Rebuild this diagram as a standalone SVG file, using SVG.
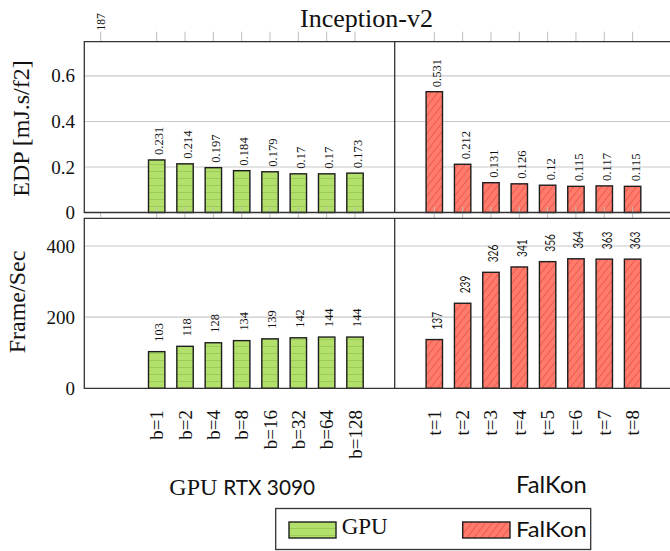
<svg xmlns="http://www.w3.org/2000/svg" width="670" height="551" viewBox="0 0 670 551">
<style>
.serif{font-family:"Liberation Serif","Times New Roman",serif;fill:#111}
.sans{font-family:Lato,"Liberation Sans",sans-serif;fill:#111}
.ytick{font-size:19px;text-anchor:end}
.val{font-size:12.6px}
.xl{font-size:19px;text-anchor:end}
.frame{stroke:#333;stroke-width:1.3;fill:none}
.grid{stroke:#c8c8c8;stroke-width:1.2}
.tick{stroke:#bdbdbd;stroke-width:1}
.gbar{fill:url(#gstripe);stroke:#1e1e1e;stroke-width:1.4}
.rbar{fill:url(#rhatch);stroke:#1e1e1e;stroke-width:1.4}
</style>
<defs>
<pattern id="gstripe" patternUnits="userSpaceOnUse" width="8" height="7">
<rect width="8" height="7" fill="#b3e06b"/>
<line x1="0" y1="3.5" x2="8" y2="3.5" stroke="#9ccb5a" stroke-width="1"/>
</pattern>
<pattern id="rhatch" patternUnits="userSpaceOnUse" width="5.5" height="5.5" patternTransform="rotate(38)">
<rect width="5.5" height="5.5" fill="#ff7b6b"/>
<line x1="0" y1="0" x2="0" y2="5.5" stroke="#e0423a" stroke-width="1.1"/>
</pattern>
</defs>
<rect width="670" height="551" fill="#fff"/>

<g id="title"><text class="serif" x="366.5" y="27" font-size="26" text-anchor="middle">Inception-v2</text></g>

<g id="axes">
<!-- gridlines -->
<line class="grid" x1="84.3" y1="75.8" x2="670" y2="75.8"/>
<line class="grid" x1="84.3" y1="121.5" x2="670" y2="121.5"/>
<line class="grid" x1="84.3" y1="167" x2="670" y2="167"/>
<line class="grid" x1="84.3" y1="246" x2="670" y2="246"/>
<line class="grid" x1="84.3" y1="317.2" x2="670" y2="317.2"/>
<!-- top ticks -->
<g class="tick">
<line x1="100.7" y1="31.7" x2="100.7" y2="41.7"/>
<line x1="156.7" y1="31.7" x2="156.7" y2="41.7"/><line x1="185.03" y1="31.7" x2="185.03" y2="41.7"/><line x1="213.36" y1="31.7" x2="213.36" y2="41.7"/><line x1="241.69" y1="31.7" x2="241.69" y2="41.7"/><line x1="270.02" y1="31.7" x2="270.02" y2="41.7"/><line x1="298.35" y1="31.7" x2="298.35" y2="41.7"/><line x1="326.68" y1="31.7" x2="326.68" y2="41.7"/><line x1="355.01" y1="31.7" x2="355.01" y2="41.7"/>
<line x1="434.3" y1="31.7" x2="434.3" y2="41.7"/><line x1="462.63" y1="31.7" x2="462.63" y2="41.7"/><line x1="490.96" y1="31.7" x2="490.96" y2="41.7"/><line x1="519.29" y1="31.7" x2="519.29" y2="41.7"/><line x1="547.62" y1="31.7" x2="547.62" y2="41.7"/><line x1="575.95" y1="31.7" x2="575.95" y2="41.7"/><line x1="604.28" y1="31.7" x2="604.28" y2="41.7"/><line x1="632.61" y1="31.7" x2="632.61" y2="41.7"/>
</g>
<text class="serif" font-size="11.5" transform="translate(105,30.5) rotate(-90)">187</text>
<!-- y tick labels -->
<text class="serif ytick" x="75" y="82.3">0.6</text>
<text class="serif ytick" x="75" y="128">0.4</text>
<text class="serif ytick" x="75" y="173.5">0.2</text>
<text class="serif ytick" x="75" y="218.7">0</text>
<text class="serif ytick" x="75" y="252.5">400</text>
<text class="serif ytick" x="75" y="323.7">200</text>
<text class="serif ytick" x="75" y="394.6">0</text>
<!-- axis titles -->
<text class="serif" font-size="24" text-anchor="middle" transform="translate(28.5,128.5) rotate(-90)">EDP [mJ.s/f2]</text>
<text class="serif" font-size="24" text-anchor="middle" transform="translate(25,302) rotate(-90)">Frame/Sec</text>
</g>

<g id="gpu-edp">
<rect class="gbar" x="148.5" y="159.95" width="16.4" height="52.55"/>
<rect class="gbar" x="176.83" y="163.81" width="16.4" height="48.69"/>
<rect class="gbar" x="205.16" y="167.68" width="16.4" height="44.82"/>
<rect class="gbar" x="233.49" y="170.64" width="16.4" height="41.86"/>
<rect class="gbar" x="261.82" y="171.78" width="16.4" height="40.72"/>
<rect class="gbar" x="290.15" y="173.82" width="16.4" height="38.68"/>
<rect class="gbar" x="318.48" y="173.82" width="16.4" height="38.68"/>
<rect class="gbar" x="346.81" y="173.14" width="16.4" height="39.36"/>
<g class="serif val">
<text transform="translate(163.2,154.95) rotate(-90)">0.231</text>
<text transform="translate(191.53,158.81) rotate(-90)">0.214</text>
<text transform="translate(219.86,162.68) rotate(-90)">0.197</text>
<text transform="translate(248.19,165.64) rotate(-90)">0.184</text>
<text transform="translate(276.52,166.78) rotate(-90)">0.179</text>
<text transform="translate(304.85,168.82) rotate(-90)">0.17</text>
<text transform="translate(333.18,168.82) rotate(-90)">0.17</text>
<text transform="translate(361.51,168.14) rotate(-90)">0.173</text>
</g>
</g>

<g id="falkon-edp">
<rect class="rbar" x="426.1" y="91.7" width="16.4" height="120.8"/>
<rect class="rbar" x="454.43" y="164.27" width="16.4" height="48.23"/>
<rect class="rbar" x="482.76" y="182.7" width="16.4" height="29.8"/>
<rect class="rbar" x="511.09" y="183.83" width="16.4" height="28.67"/>
<rect class="rbar" x="539.42" y="185.2" width="16.4" height="27.3"/>
<rect class="rbar" x="567.75" y="186.34" width="16.4" height="26.16"/>
<rect class="rbar" x="596.08" y="185.88" width="16.4" height="26.62"/>
<rect class="rbar" x="624.41" y="186.34" width="16.4" height="26.16"/>
<g class="serif val">
<text transform="translate(441.3,87.2) rotate(-90)">0.531</text>
<text transform="translate(469.63,159.27) rotate(-90)">0.212</text>
<text transform="translate(497.96,177.7) rotate(-90)">0.131</text>
<text transform="translate(526.29,178.83) rotate(-90)">0.126</text>
<text transform="translate(554.62,180.2) rotate(-90)">0.12</text>
<text transform="translate(582.95,181.34) rotate(-90)">0.115</text>
<text transform="translate(611.28,180.88) rotate(-90)">0.117</text>
<text transform="translate(639.61,181.34) rotate(-90)">0.115</text>
</g>
</g>

<g id="gpu-fps">
<rect class="gbar" x="148.5" y="351.65" width="16.4" height="36.65"/>
<rect class="gbar" x="176.83" y="346.32" width="16.4" height="41.98"/>
<rect class="gbar" x="205.16" y="342.76" width="16.4" height="45.54"/>
<rect class="gbar" x="233.49" y="340.62" width="16.4" height="47.68"/>
<rect class="gbar" x="261.82" y="338.84" width="16.4" height="49.46"/>
<rect class="gbar" x="290.15" y="337.78" width="16.4" height="50.52"/>
<rect class="gbar" x="318.48" y="337.06" width="16.4" height="51.24"/>
<rect class="gbar" x="346.81" y="337.06" width="16.4" height="51.24"/>
<g class="serif" font-size="12.4">
<text transform="translate(162.8,341.65) rotate(-90)">103</text>
<text transform="translate(191.13,336.32) rotate(-90)">118</text>
<text transform="translate(219.46,332.76) rotate(-90)">128</text>
<text transform="translate(247.79,330.62) rotate(-90)">134</text>
<text transform="translate(276.12,328.84) rotate(-90)">139</text>
<text transform="translate(304.45,327.78) rotate(-90)">142</text>
<text transform="translate(332.78,327.06) rotate(-90)">144</text>
<text transform="translate(361.11,327.06) rotate(-90)">144</text>
</g>
</g>

<g id="falkon-fps">
<rect class="rbar" x="426.1" y="339.56" width="16.4" height="48.74"/>
<rect class="rbar" x="454.43" y="303.26" width="16.4" height="85.04"/>
<rect class="rbar" x="482.76" y="272.31" width="16.4" height="115.99"/>
<rect class="rbar" x="511.09" y="266.97" width="16.4" height="121.33"/>
<rect class="rbar" x="539.42" y="261.64" width="16.4" height="126.66"/>
<rect class="rbar" x="567.75" y="258.79" width="16.4" height="129.51"/>
<rect class="rbar" x="596.08" y="259.14" width="16.4" height="129.16"/>
<rect class="rbar" x="624.41" y="259.14" width="16.4" height="129.16"/>
<g class="sans" font-size="12.5">
<text transform="translate(441.6,329.56) rotate(-90)" textLength="17.6" lengthAdjust="spacingAndGlyphs">137</text>
<text transform="translate(469.93,293.26) rotate(-90)" textLength="17.6" lengthAdjust="spacingAndGlyphs">239</text>
<text transform="translate(498.26,262.31) rotate(-90)" textLength="17.6" lengthAdjust="spacingAndGlyphs">326</text>
<text transform="translate(526.59,256.97) rotate(-90)" textLength="17.6" lengthAdjust="spacingAndGlyphs">341</text>
<text transform="translate(554.92,251.64) rotate(-90)" textLength="17.6" lengthAdjust="spacingAndGlyphs">356</text>
<text transform="translate(583.25,248.79) rotate(-90)" textLength="17.6" lengthAdjust="spacingAndGlyphs">364</text>
<text transform="translate(611.58,249.14) rotate(-90)" textLength="17.6" lengthAdjust="spacingAndGlyphs">363</text>
<text transform="translate(639.91,249.14) rotate(-90)" textLength="17.6" lengthAdjust="spacingAndGlyphs">363</text>
</g>
</g>

<g id="frames">
<!-- ticks crossing top chart bottom axis -->
<g class="tick">
<line x1="100.7" y1="212.5" x2="100.7" y2="217"/>
<line x1="156.7" y1="207" x2="156.7" y2="218"/><line x1="185.03" y1="207" x2="185.03" y2="218"/><line x1="213.36" y1="207" x2="213.36" y2="218"/><line x1="241.69" y1="207" x2="241.69" y2="218"/><line x1="270.02" y1="207" x2="270.02" y2="218"/><line x1="298.35" y1="207" x2="298.35" y2="218"/><line x1="326.68" y1="207" x2="326.68" y2="218"/><line x1="355.01" y1="207" x2="355.01" y2="218"/>
<line x1="434.3" y1="207" x2="434.3" y2="218"/><line x1="462.63" y1="207" x2="462.63" y2="218"/><line x1="490.96" y1="207" x2="490.96" y2="218"/><line x1="519.29" y1="207" x2="519.29" y2="218"/><line x1="547.62" y1="207" x2="547.62" y2="218"/><line x1="575.95" y1="207" x2="575.95" y2="218"/><line x1="604.28" y1="207" x2="604.28" y2="218"/><line x1="632.61" y1="207" x2="632.61" y2="218"/>
</g>
<path class="frame" d="M670 41.7 H84.3 V212.5 H670 M394.7 41.7 V212.5"/>
<path class="frame" d="M670 218.3 H84.3 V388.3 H670 M394.7 218.3 V388.3"/>
</g>

<g id="x-labels" class="serif xl">
<text transform="translate(163.2,410) rotate(-90)">b=1</text>
<text transform="translate(191.53,410) rotate(-90)">b=2</text>
<text transform="translate(219.86,410) rotate(-90)">b=4</text>
<text transform="translate(248.19,410) rotate(-90)">b=8</text>
<text transform="translate(276.52,410) rotate(-90)">b=16</text>
<text transform="translate(304.85,410) rotate(-90)">b=32</text>
<text transform="translate(333.18,410) rotate(-90)">b=64</text>
<text transform="translate(361.51,410) rotate(-90)">b=128</text>
<text transform="translate(440.8,410) rotate(-90)">t=1</text>
<text transform="translate(469.13,410) rotate(-90)">t=2</text>
<text transform="translate(497.46,410) rotate(-90)">t=3</text>
<text transform="translate(525.79,410) rotate(-90)">t=4</text>
<text transform="translate(554.12,410) rotate(-90)">t=5</text>
<text transform="translate(582.45,410) rotate(-90)">t=6</text>
<text transform="translate(610.78,410) rotate(-90)">t=7</text>
<text transform="translate(639.11,410) rotate(-90)">t=8</text>
</g>

<g id="group-labels">
<text class="serif" x="169.3" y="495" font-size="24">GPU</text>
<text class="sans" x="223.3" y="495" font-size="21.5" textLength="91.7" lengthAdjust="spacingAndGlyphs">RTX 3090</text>
<text class="sans" x="516" y="493.3" font-size="23" textLength="70.7" lengthAdjust="spacingAndGlyphs">FalKon</text>
</g>

<g id="legend">
<rect x="275.7" y="508.5" width="315" height="41" fill="#fff" stroke="#333" stroke-width="1.3"/>
<rect class="gbar" x="289" y="522" width="47" height="16"/>
<text class="serif" x="341.7" y="534.3" font-size="23">GPU</text>
<rect class="rbar" x="462.7" y="522" width="47.3" height="16"/>
<text class="sans" x="516" y="536.7" font-size="22" textLength="70.7" lengthAdjust="spacingAndGlyphs">FalKon</text>
</g>
</svg>
